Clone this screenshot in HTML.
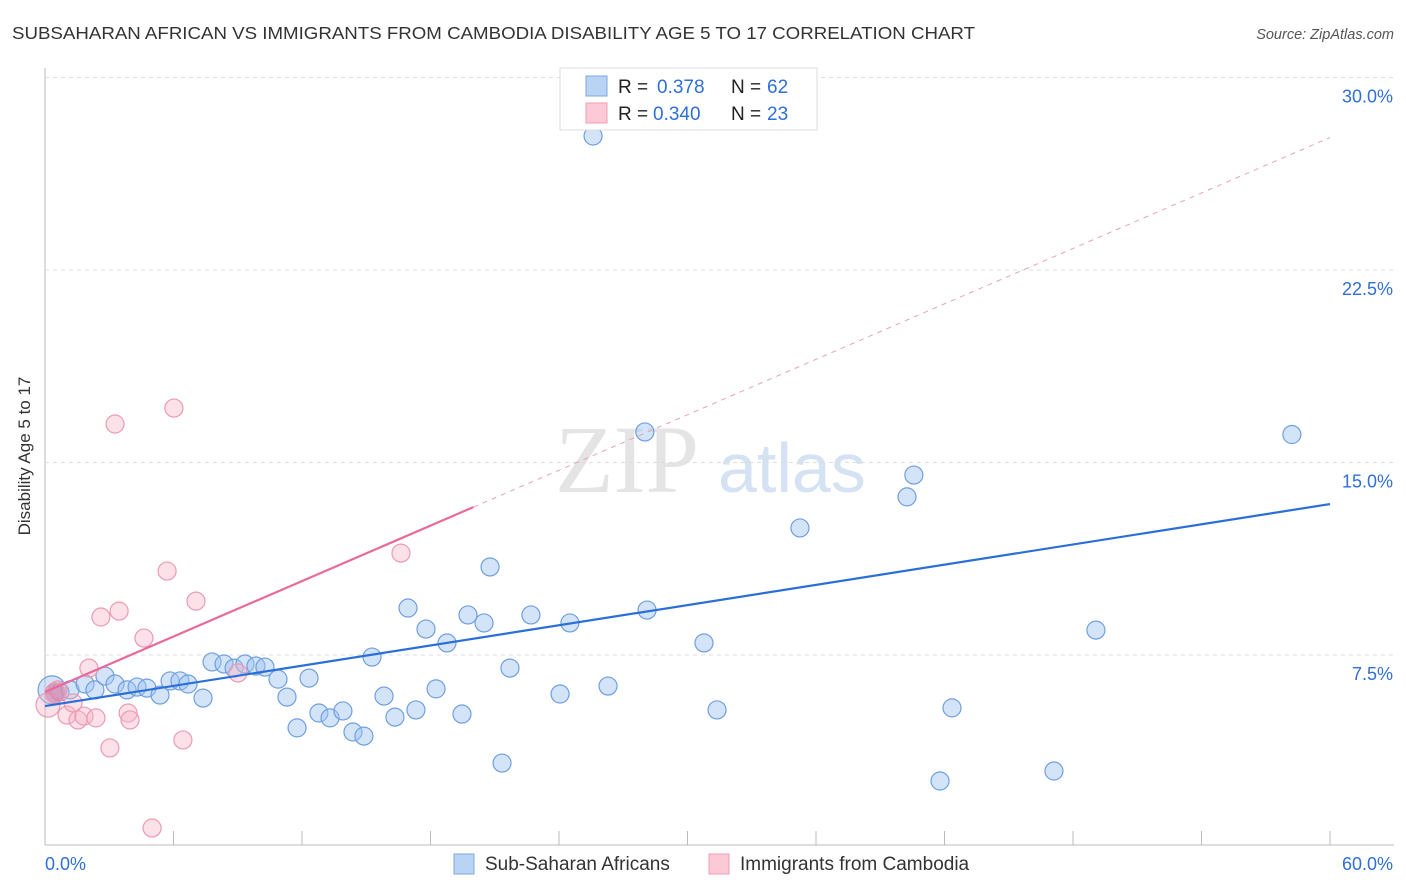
<!DOCTYPE html>
<html><head><meta charset="utf-8"><style>
body{margin:0;background:#fff;font-family:"Liberation Sans",sans-serif}
</style></head><body>
<svg id="c" width="1406" height="892" style="position:absolute;left:0;top:0">
<text x="12" y="39" font-size="17.5" fill="#333" textLength="963" lengthAdjust="spacingAndGlyphs">SUBSAHARAN AFRICAN VS IMMIGRANTS FROM CAMBODIA DISABILITY AGE 5 TO 17 CORRELATION CHART</text>
<text x="1394" y="39" font-size="14.5" fill="#555" font-style="italic" text-anchor="end">Source: ZipAtlas.com</text>
<text x="30" y="456" font-size="17" fill="#333" text-anchor="middle" transform="rotate(-90 30 456)">Disability Age 5 to 17</text>
<text x="555" y="492" font-size="96" fill="#e4e4e4" font-family="Liberation Serif,serif">ZIP</text>
<text x="718" y="492" font-size="70" fill="#d4e2f4">atlas</text>
<g id="grid"></g><g id="pts"></g><g id="lines"></g>
<g>
<rect x="560" y="68" width="257" height="62" fill="#fff" stroke="#ddd"/>
<rect x="586" y="76" width="21" height="20" fill="#b9d3f5" stroke="#7ea7e0"/>
<rect x="586" y="103" width="21" height="20" fill="#fcc9d7" stroke="#ef9db5"/>
<text x="618" y="93" font-size="19" fill="#222">R =</text>
<text x="657" y="93" font-size="19" fill="#2f6fd6">0.378</text>
<text x="731" y="93" font-size="19" fill="#222">N =</text>
<text x="767" y="93" font-size="19" fill="#2f6fd6">62</text>
<text x="618" y="120" font-size="19" fill="#222">R =</text>
<text x="653" y="120" font-size="19" fill="#2f6fd6">0.340</text>
<text x="731" y="120" font-size="19" fill="#222">N =</text>
<text x="767" y="120" font-size="19" fill="#2f6fd6">23</text>
</g>
<g>
<rect x="454" y="854" width="20" height="20" fill="#b9d3f5" stroke="#7ea7e0"/>
<text x="485" y="870" font-size="19" fill="#333">Sub-Saharan Africans</text>
<rect x="709" y="854" width="20" height="20" fill="#fcc9d7" stroke="#ef9db5"/>
<text x="740" y="870" font-size="19" fill="#333">Immigrants from Cambodia</text>
</g>
</svg>
<script>
const blueX=[0.33,0.70,1.17,1.87,2.33,2.80,3.27,3.83,4.30,4.76,5.37,5.84,6.30,6.68,7.38,7.80,8.36,8.83,9.34,9.85,10.27,10.88,11.30,11.77,12.33,12.79,13.31,13.91,14.38,14.89,15.27,15.83,16.34,16.95,17.32,17.79,18.26,18.77,19.47,19.75,20.50,20.78,21.34,21.71,22.69,24.05,24.51,25.59,26.29,28.01,28.11,30.77,31.38,35.25,40.25,40.57,41.79,42.35,47.11,49.07,58.22,35.25];
const blueY=[6.14,6.06,6.14,6.37,6.14,6.68,6.37,6.14,6.25,6.21,5.94,6.49,6.49,6.37,5.82,7.23,7.15,6.99,7.15,7.07,7.03,6.56,5.86,4.66,6.60,5.24,5.05,5.32,4.50,4.34,7.42,5.90,5.08,9.33,5.36,8.51,6.18,7.97,5.20,9.06,8.75,10.93,3.29,6.99,9.06,5.98,8.75,27.72,6.29,16.19,9.25,7.97,5.36,12.45,13.66,14.51,2.59,5.44,2.98,8.47,16.09,28.62];
const pinkX=[0.14,0.61,1.03,1.54,1.82,2.05,2.38,2.61,3.03,3.27,3.46,3.88,3.97,4.62,5.00,5.70,6.02,6.44,7.05,9.01,16.62,1.31,0.47];
const pinkY=[5.55,6.14,5.16,4.97,5.12,6.99,5.05,8.98,3.88,16.50,9.21,5.24,4.97,8.16,0.76,10.77,17.12,4.19,9.60,6.80,11.47,5.63,6.02];
const blueTrend=[5.51,13.38];
const pinkTrend=[6.06,0.36];
const yTicks=[7.5,15,22.5,30];
const xTickLabels=["0.0%","60.0%"];
const NS="http://www.w3.org/2000/svg";
const X=v=>45+v/60*1285, Y=v=>847.5-v/7.5*192.5;
function mk(tag,at,parent){const e=document.createElementNS(NS,tag);for(const k in at)e.setAttribute(k,at[k]);document.getElementById(parent).appendChild(e);return e;}
const ax=mk('line',{x1:45,y1:68,x2:45,y2:845,stroke:'#bbb'},'grid');


const bx=mk('line',{x1:45,y1:845,x2:1394,y2:845,stroke:'#bbb'},'grid');


for(let i=0;i<=10;i++){const t=mk('line',{x1:X(i*6),y1:831,x2:X(i*6),y2:845,stroke:'#bbb'},'grid');

}
yTicks.forEach(v=>{const g=mk('line',{x1:45,y1:Y(v),x2:1394,y2:Y(v),stroke:'#ddd','stroke-dasharray':'4,4'},'grid');


const t=mk('text',{x:1393,y:Y(v)+25,'font-size':18,fill:'#2f6fd6','text-anchor':'end'},'grid');t.textContent=v.toFixed(1)+'%';

});
const l0=mk('text',{x:45,y:870,'font-size':18,fill:'#2f6fd6'},'grid');l0.textContent=xTickLabels[0];


const l1=mk('text',{x:1393,y:870,'font-size':18,fill:'#2f6fd6','text-anchor':'end'},'grid');l1.textContent=xTickLabels[1];


blueX.forEach((v,i)=>{const c=mk('circle',{cx:X(v),cy:Y(blueY[i]),r:i==0?14:9,fill:'rgba(160,196,240,0.45)',stroke:'#6f9fe0','stroke-width':1.2},'pts');

});
pinkX.forEach((v,i)=>{const c=mk('circle',{cx:X(v),cy:Y(pinkY[i]),r:i==0?12:(i==22?10:9),fill:i==22?'rgba(210,130,170,0.6)':'rgba(248,180,200,0.4)',stroke:'#ec9ab4','stroke-width':1.2},'pts');

});
const bl=mk('line',{x1:X(0),y1:Y(blueTrend[0]),x2:X(60),y2:Y(blueTrend[1]),stroke:'#2a6fd8','stroke-width':2.2},'lines');


const pl=mk('line',{x1:X(0),y1:Y(pinkTrend[0]),x2:X(20),y2:Y(pinkTrend[0]+pinkTrend[1]*20),stroke:'#e8699a','stroke-width':2.2},'lines');


const pd=mk('line',{x1:X(20),y1:Y(pinkTrend[0]+pinkTrend[1]*20),x2:X(60),y2:Y(pinkTrend[0]+pinkTrend[1]*60),stroke:'#eaa0bb','stroke-width':1,'stroke-dasharray':'5,5'},'lines');


</script>
</body></html>
